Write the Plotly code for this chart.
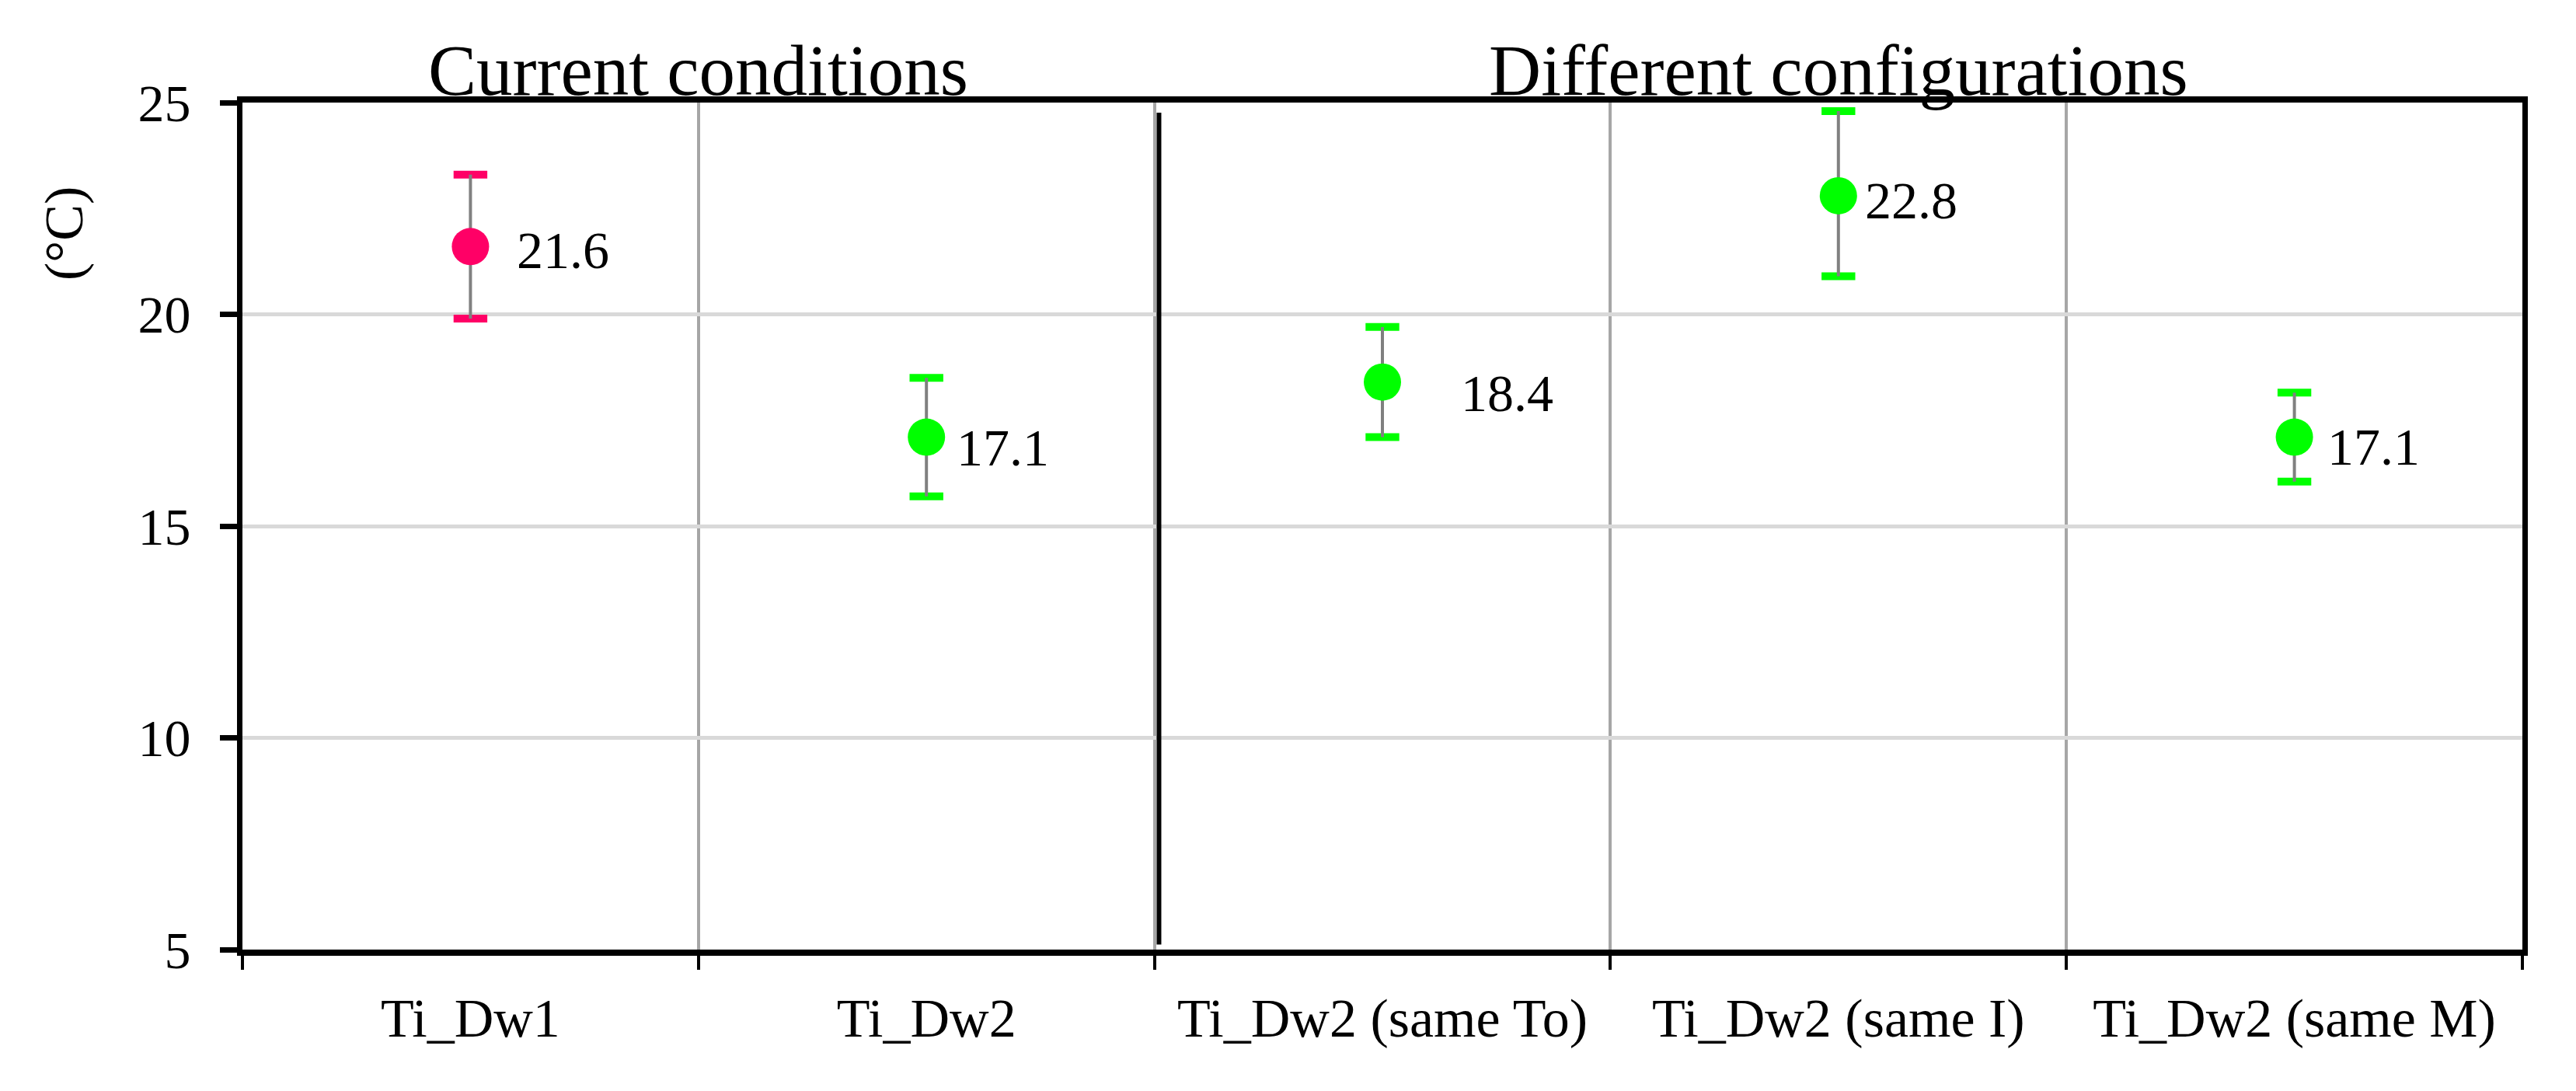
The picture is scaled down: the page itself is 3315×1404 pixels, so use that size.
import plotly.graph_objects as go

categories = ["Ti_Dw1", "Ti_Dw2", "Ti_Dw2 (same To)", "Ti_Dw2 (same I)", "Ti_Dw2 (same M)"]
values = [21.6, 17.1, 18.4, 22.8, 17.1]
err_plus = [1.7, 1.4, 1.3, 2.0, 1.05]
err_minus = [1.7, 1.4, 1.3, 1.9, 1.05]
point_colors = ["#FF0066", "#00FF00", "#00FF00", "#00FF00", "#00FF00"]
group_titles = ["Current conditions", "Different configurations"]
y_ticks = [5, 10, 15, 20, 25]

# label placement (pixel shifts from point)
label_dx = [58, 37, 99, 32, 40]
label_dy = [-5, -13, -14, -6, -12]

FONT = "Liberation Serif"

fig = go.Figure()

# error bar caps
cap_x = categories + categories
cap_y = [v + e for v, e in zip(values, err_plus)] + [v - e for v, e in zip(values, err_minus)]
fig.add_trace(go.Scatter(
    x=cap_x, y=cap_y, mode="markers",
    marker=dict(symbol="line-ew", size=31, line=dict(width=10, color=point_colors + point_colors)),
    hoverinfo="skip", showlegend=False, cliponaxis=False,
))

# points with gray stems
fig.add_trace(go.Scatter(
    x=categories, y=values, mode="markers",
    marker=dict(size=48, color=point_colors, line=dict(width=0)),
    error_y=dict(type="data", symmetric=False, array=err_plus, arrayminus=err_minus,
                 color="#808080", thickness=4, width=0),
    showlegend=False, cliponaxis=False,
))

annotations = []
for i, (c, v) in enumerate(zip(categories, values)):
    annotations.append(dict(
        x=c, y=v, xref="x", yref="y", text=f"{v:.1f}", showarrow=False,
        xanchor="left", yanchor="middle", xshift=label_dx[i], yshift=label_dy[i],
        font=dict(family=FONT, size=68, color="black"),
    ))

annotations.append(dict(x=0.5, y=1, xref="x", yref="paper", text=group_titles[0], showarrow=False,
                        xanchor="center", yanchor="bottom", yshift=-12,
                        font=dict(family=FONT, size=93, color="black")))
annotations.append(dict(x=3, y=1, xref="x", yref="paper", text=group_titles[1], showarrow=False,
                        xanchor="center", yanchor="bottom", yshift=-12,
                        font=dict(family=FONT, size=93, color="black")))
annotations.append(dict(x=-0.078, y=0.845, xref="paper", yref="paper", text="(°C)", showarrow=False,
                        textangle=-90, xanchor="center", yanchor="middle",
                        font=dict(family=FONT, size=70, color="black")))

fig.update_layout(
    width=3307, height=1396,
    margin=dict(l=304, r=69, t=124, b=182),
    paper_bgcolor="white", plot_bgcolor="white",
    font=dict(family=FONT, size=64, color="black"),
    annotations=annotations,
    shapes=[dict(type="line", xref="x", yref="paper", x0=1.5, x1=1.5, x0shift=0.01, x1shift=0.01,
                 y0=0.006, y1=0.988, line=dict(color="black", width=6), layer="above")],
)

fig.update_xaxes(
    type="category", categoryorder="array", categoryarray=categories,
    range=[-0.5, 4.5], tickson="boundaries",
    showgrid=True, gridcolor="#A6A6A6", gridwidth=4,
    ticks="outside", ticklen=18, tickwidth=4, tickcolor="black",
    showline=True, linewidth=8, linecolor="black", mirror=True,
    tickfont=dict(family=FONT, size=70, color="black"), ticklabelstandoff=20,
)
fig.update_yaxes(
    range=[5, 25], tickvals=y_ticks,
    showgrid=True, gridcolor="#D9D9D9", gridwidth=5, zeroline=False,
    ticks="outside", ticklen=22, tickwidth=7, tickcolor="black",
    showline=True, linewidth=7, linecolor="black", mirror=True,
    tickfont=dict(family=FONT, size=68, color="black"), ticklabelstandoff=24,
)

fig.write_html("out.html")
